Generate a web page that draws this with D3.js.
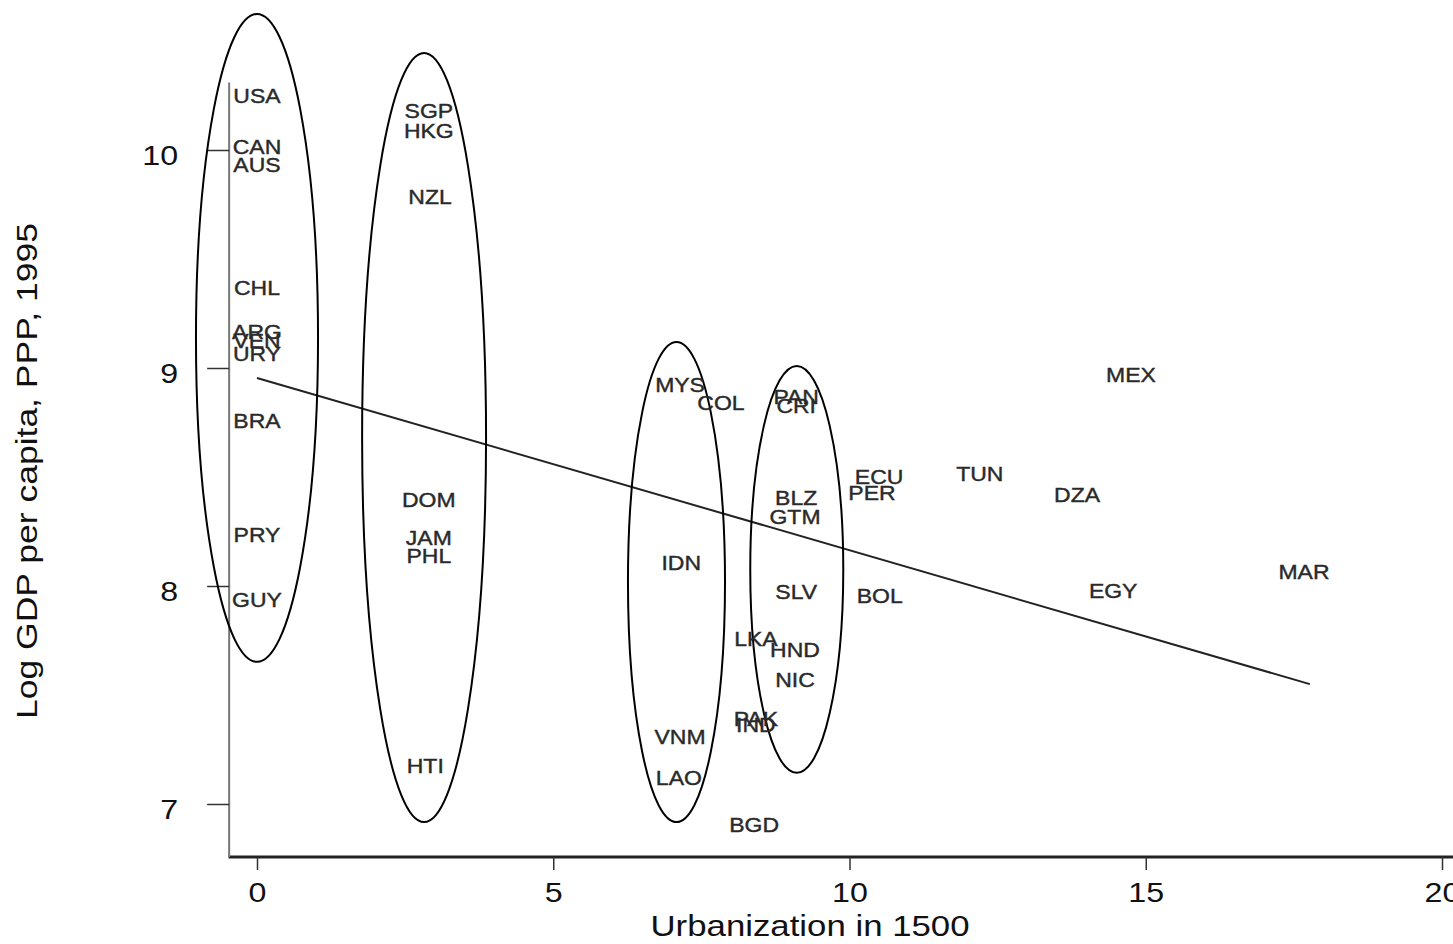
<!DOCTYPE html>
<html><head><meta charset="utf-8">
<script src="https://cdn.jsdelivr.net/npm/d3@7"></script>
<style>body{margin:0;background:#fff;} svg{display:block;}</style>
</head><body>
<svg id="chart" width="1453" height="944"></svg>
<script>
// ---- data ----
const countries = ["USA","CAN","AUS","CHL","ARG","VEN","URY","BRA","PRY","GUY",
  "SGP","HKG","NZL","DOM","JAM","PHL","HTI",
  "MYS","COL","IDN","VNM","LAO","LKA","PAK","IND","BGD",
  "PAN","CRI","BLZ","GTM","SLV","HND","NIC",
  "ECU","PER","BOL","TUN","DZA","EGY","MEX","MAR"];
const urbanization = [0,0,0,0,0,0,0,0,0,0,
  2.90,2.90,2.92,2.90,2.90,2.90,2.84,
  7.14,7.83,7.16,7.14,7.12,8.42,8.42,8.42,8.39,
  9.10,9.10,9.10,9.08,9.10,9.08,9.08,
  10.50,10.38,10.51,12.20,13.84,14.45,14.75,17.67];
const logGdp = [10.248,10.014,9.931,9.367,9.165,9.124,9.064,8.757,8.234,7.936,
  10.179,10.087,9.784,8.394,8.220,8.138,7.174,
  8.922,8.839,8.106,7.307,7.119,7.757,7.390,7.362,6.904,
  8.867,8.826,8.404,8.317,7.972,7.706,7.569,
  8.500,8.427,7.954,8.514,8.417,7.977,8.968,8.064];
const xTicks = [0,5,10,15,20];
const yTicks = [7,8,9,10];
const fitU = [0, 17.77];
const fitV = [8.954, 7.550];
// highlighted groups: centre (u,v) and half-widths in data units
const ellU  = [0.00, 2.82, 7.08, 9.11];
const ellV  = [9.138, 8.681, 8.018, 8.076];
const ellRU = [1.03, 1.046, 0.819, 0.785];
const ellRV = [1.486, 1.764, 1.101, 0.933];
const xTitle = "Urbanization in 1500";
const yTitle = "Log GDP per capita, PPP, 1995";

// ---- drawing ----
const svg = d3.select("#chart");
const x = d3.scaleLinear().domain([0,20]).range([257,1442]);
const y = d3.scaleLinear().domain([7,10]).range([804,150]);
const FONT = "'Liberation Sans', Arial, sans-serif";
const SX = 1.15;

// axis lines
svg.append("line")
  .attr("x1", x(-0.48)).attr("x2", x(20.3))
  .attr("y1", y(6.757)).attr("y2", y(6.757))
  .attr("stroke", "#222").attr("stroke-width", 3);
svg.append("line")
  .attr("x1", x(-0.47)).attr("x2", x(-0.47))
  .attr("y1", y(10.31)).attr("y2", y(6.757))
  .attr("stroke", "#777").attr("stroke-width", 2);

// bottom axis
const gx = svg.append("g").attr("transform", `translate(0,${y(6.757)})`)
  .call(d3.axisBottom(x).tickValues(xTicks).tickSize(13).tickFormat(d3.format("d")));
gx.select(".domain").remove();
gx.selectAll(".tick line").attr("stroke", "#333").attr("stroke-width", 1.5);
gx.selectAll(".tick text").attr("y", 45).attr("dy", 0)
  .attr("font-family", FONT).attr("font-size", 28).attr("fill", "#111")
  .attr("transform", `scale(${SX},1)`);

// left axis
const gy = svg.append("g").attr("transform", `translate(${x(-0.47)},0)`)
  .call(d3.axisLeft(y).tickValues(yTicks).tickSize(22).tickFormat(d3.format("d")));
gy.select(".domain").remove();
gy.selectAll(".tick line").attr("stroke", "#333").attr("stroke-width", 1.5);
gy.selectAll(".tick text").attr("x", -51 / SX).attr("dy", "0.5em")
  .attr("font-family", FONT).attr("font-size", 28).attr("fill", "#111")
  .attr("transform", `scale(${SX},1)`);

// fitted line
svg.append("path")
  .datum(fitU.map((u,i) => [u, fitV[i]]))
  .attr("d", d3.line().x(d => x(d[0])).y(d => y(d[1])))
  .attr("fill", "none").attr("stroke", "#222").attr("stroke-width", 2);

// ellipses
svg.append("g").selectAll("ellipse")
  .data(ellU.map((u,i) => ({u, v: ellV[i], ru: ellRU[i], rv: ellRV[i]})))
  .join("ellipse")
  .attr("cx", d => x(d.u)).attr("cy", d => y(d.v))
  .attr("rx", d => x(d.ru) - x(0)).attr("ry", d => y(0) - y(d.rv))
  .attr("fill", "none").attr("stroke", "#000").attr("stroke-width", 2);

// country labels
svg.append("g").selectAll("g")
  .data(countries.map((c,i) => ({c, u: urbanization[i], v: logGdp[i]})))
  .join("g")
  .attr("transform", d => `translate(${x(d.u)},${y(d.v)})`)
  .append("text")
  .attr("transform", `scale(${SX},1)`)
  .attr("text-anchor", "middle").attr("dy", "0.36em")
  .attr("font-family", FONT).attr("font-size", 20).attr("fill", "#2a2a2a")
  .attr("stroke", "#2a2a2a").attr("stroke-width", 0.4)
  .text(d => d.c);

// titles
svg.append("text")
  .attr("x", 810).attr("y", 936).attr("text-anchor", "middle")
  .attr("font-family", FONT).attr("font-size", 29).attr("fill", "#111")
  .attr("textLength", 319).attr("lengthAdjust", "spacingAndGlyphs")
  .text(xTitle);
svg.append("text")
  .attr("transform", "translate(37,471) rotate(-90)")
  .attr("text-anchor", "middle")
  .attr("font-family", FONT).attr("font-size", 30).attr("fill", "#111")
  .attr("textLength", 496).attr("lengthAdjust", "spacingAndGlyphs")
  .text(yTitle);
</script>
</body></html>
